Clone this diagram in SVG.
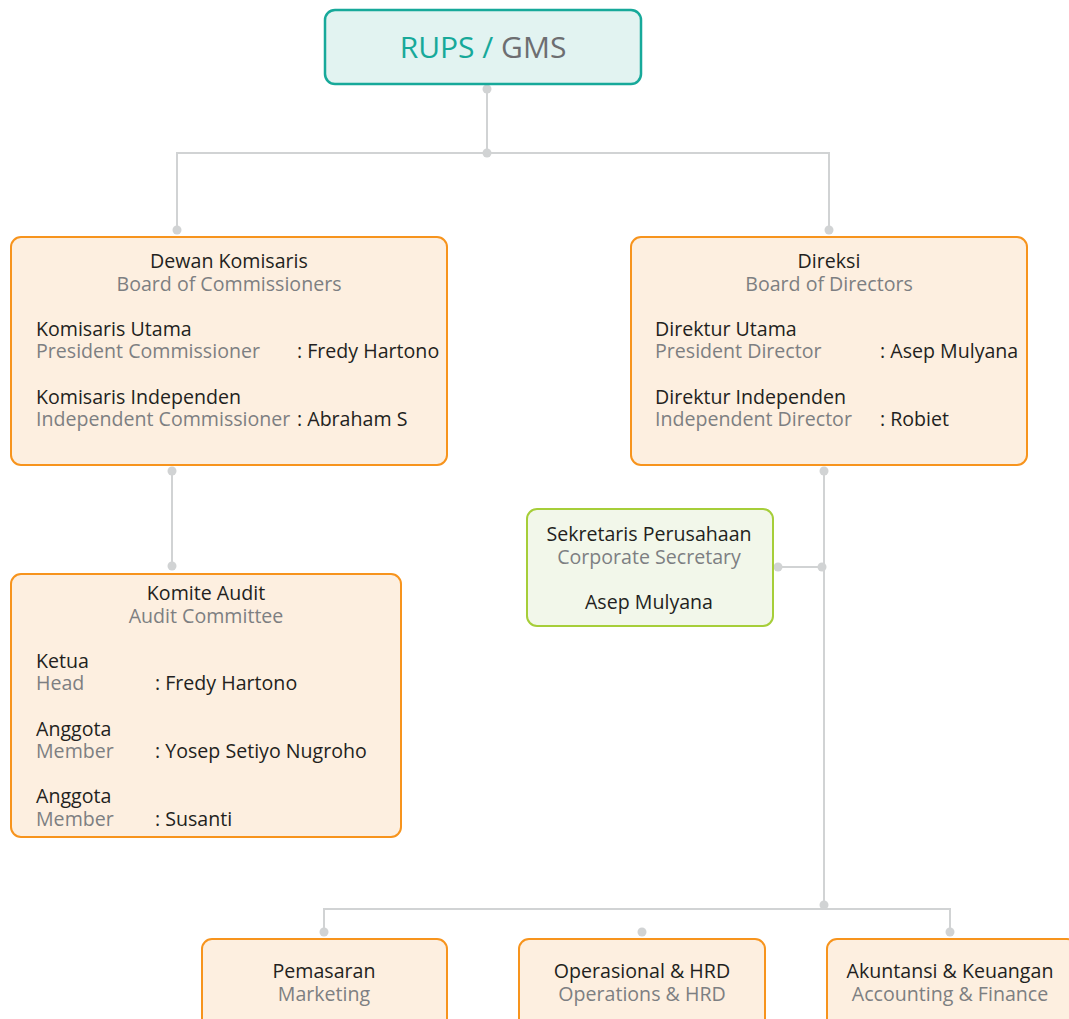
<svg xmlns="http://www.w3.org/2000/svg" width="1069" height="1019" viewBox="0 0 1069 1019">
<style>
text{font-family:"Open Sans","Noto Sans",sans-serif;font-size:19.6px}
.d{fill:#231f20;font-weight:500}
.g{fill:#7d7f82}
.c{text-anchor:middle}
.o{fill:#fdefe0;stroke:#f7941d;stroke-width:2}
.gr{fill:#f2f7ea;stroke:#a6ce39;stroke-width:2}
.t{fill:#e2f3f1;stroke:#17a99a;stroke-width:2.5}
.ln{fill:none;stroke:#d1d3d4;stroke-width:2}
.dot{fill:#d1d3d4}
</style>
<g id="connectors">
<path class="ln" d="M487 89V153M177 230V153H829V230M172 471V566M824 471V905M778 567H822M324 932V909H950V932"/>
<circle class="dot" cx="487" cy="89" r="4.5"/>
<circle class="dot" cx="487" cy="153" r="4.5"/>
<circle class="dot" cx="177" cy="230" r="4.5"/>
<circle class="dot" cx="829" cy="230" r="4.5"/>
<circle class="dot" cx="172" cy="471" r="4.5"/>
<circle class="dot" cx="172" cy="566" r="4.5"/>
<circle class="dot" cx="824" cy="471" r="4.5"/>
<circle class="dot" cx="778" cy="567" r="4.5"/>
<circle class="dot" cx="822" cy="567" r="4.5"/>
<circle class="dot" cx="824" cy="905" r="4.5"/>
<circle class="dot" cx="324" cy="932" r="4.5"/>
<circle class="dot" cx="642" cy="932" r="4.5"/>
<circle class="dot" cx="950" cy="932" r="4.5"/>
</g>
<g id="rups">
<rect class="t" x="325" y="10" width="316" height="74" rx="10"/>
<text x="483" y="58" class="c" style="font-size:30px;font-weight:500"><tspan fill="#17a99a">RUPS /</tspan><tspan fill="#6d6e71"> GMS</tspan></text>
</g>
<g id="dewan">
<rect class="o" x="11" y="237" width="436" height="228" rx="10"/>
<text x="229" y="268" class="c d">Dewan Komisaris</text>
<text x="229" y="291" class="c g">Board of Commissioners</text>
<text x="36" y="336" class="d">Komisaris Utama</text>
<text x="36" y="358" class="g">President Commissioner</text>
<text x="297" y="358" class="d">: Fredy Hartono</text>
<text x="36" y="404" class="d">Komisaris Independen</text>
<text x="36" y="426" class="g">Independent Commissioner</text>
<text x="297" y="426" class="d">: Abraham S</text>
</g>
<g id="direksi">
<rect class="o" x="631" y="237" width="396" height="228" rx="10"/>
<text x="829" y="268" class="c d">Direksi</text>
<text x="829" y="291" class="c g">Board of Directors</text>
<text x="655" y="336" class="d">Direktur Utama</text>
<text x="655" y="358" class="g">President Director</text>
<text x="880" y="358" class="d">: Asep Mulyana</text>
<text x="655" y="404" class="d">Direktur Independen</text>
<text x="655" y="426" class="g">Independent Director</text>
<text x="880" y="426" class="d">: Robiet</text>
</g>
<g id="corsec">
<rect class="gr" x="527" y="509" width="246" height="117" rx="10"/>
<text x="649" y="541" class="c d">Sekretaris Perusahaan</text>
<text x="649" y="564" class="c g">Corporate Secretary</text>
<text x="649" y="609" class="c d">Asep Mulyana</text>
</g>
<g id="komite">
<rect class="o" x="11" y="574" width="390" height="263" rx="10"/>
<text x="206" y="600" class="c d">Komite Audit</text>
<text x="206" y="623" class="c g">Audit Committee</text>
<text x="36" y="668" class="d">Ketua</text>
<text x="36" y="690" class="g">Head</text>
<text x="155" y="690" class="d">: Fredy Hartono</text>
<text x="36" y="736" class="d">Anggota</text>
<text x="36" y="758" class="g">Member</text>
<text x="155" y="758" class="d">: Yosep Setiyo Nugroho</text>
<text x="36" y="803" class="d">Anggota</text>
<text x="36" y="826" class="g">Member</text>
<text x="155" y="826" class="d">: Susanti</text>
</g>
<g id="pemasaran">
<rect class="o" x="202" y="939" width="245" height="100" rx="10"/>
<text x="324" y="978" class="c d">Pemasaran</text>
<text x="324" y="1001" class="c g">Marketing</text>
</g>
<g id="operasional">
<rect class="o" x="519" y="939" width="246" height="100" rx="10"/>
<text x="642" y="978" class="c d">Operasional &amp; HRD</text>
<text x="642" y="1001" class="c g">Operations &amp; HRD</text>
</g>
<g id="akuntansi">
<rect class="o" x="827" y="939" width="250" height="100" rx="10"/>
<text x="950" y="978" class="c d">Akuntansi &amp; Keuangan</text>
<text x="950" y="1001" class="c g">Accounting &amp; Finance</text>
</g>
</svg>
